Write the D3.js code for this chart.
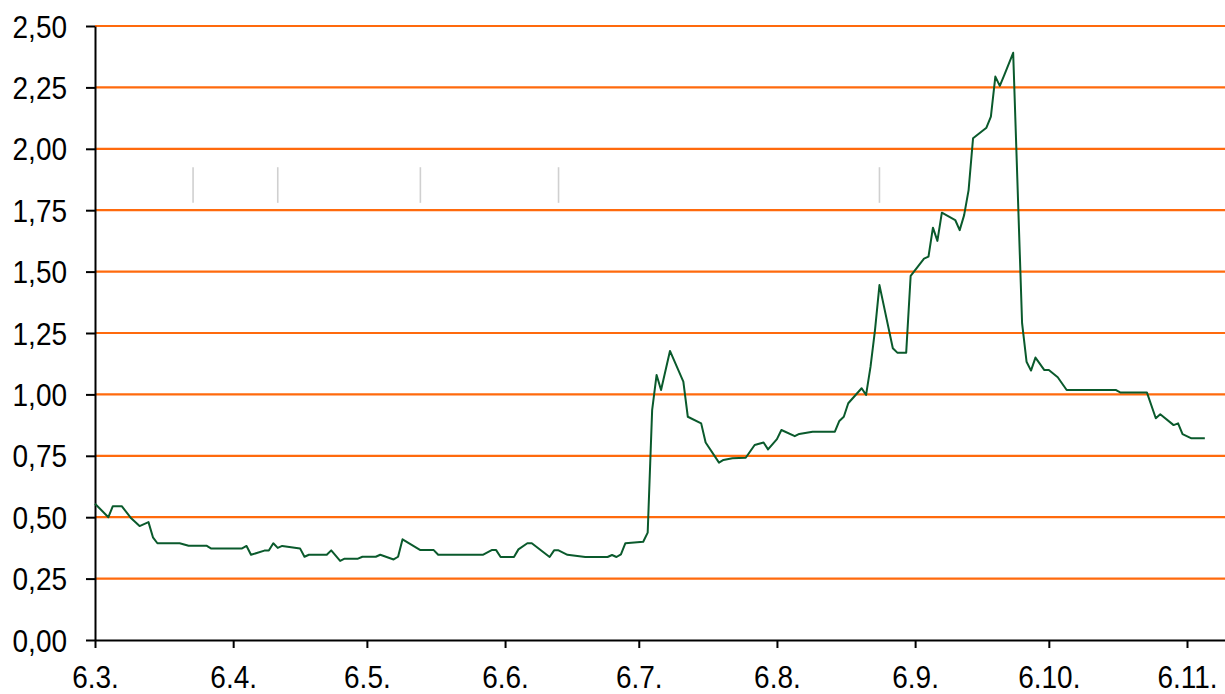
<!DOCTYPE html>
<html lang="fi">
<head>
<meta charset="utf-8">
<script src="https://cdnjs.cloudflare.com/ajax/libs/d3/7.8.5/d3.min.js"></script>
<style>
  body { margin: 0; background: #fff; }
  svg text { font-family: "Liberation Sans", Arial, sans-serif; fill: #000; }
</style>
</head>
<body>
<div id="chart"></div>
<script>
// data (day.month.)
const year = 2008;
const dates = [
  "6.3.","9.3.","10.3.","12.3.","14.3.","16.3.","18.3.","19.3.","20.3.","25.3.",
  "27.3.","31.3.","1.4.","8.4.","9.4.","10.4.","13.4.","14.4.","15.4.","16.4.",
  "17.4.","21.4.","22.4.","23.4.","27.4.","28.4.","30.4.","1.5.","4.5.","5.5.",
  "8.5.","9.5.","12.5.","13.5.","14.5.","18.5.","21.5.","22.5.","1.6.","3.6.",
  "4.6.","5.6.","8.6.","9.6.","11.6.","12.6.","16.6.","17.6.","18.6.","20.6.",
  "24.6.","29.6.","30.6.","1.7.","2.7.","3.7.","7.7.","8.7.","9.7.","10.7.",
  "11.7.","13.7.","16.7.","17.7.","20.7.","21.7.","24.7.","25.7.","27.7.","30.7.",
  "1.8.","3.8.","4.8.","6.8.","7.8.","10.8.","11.8.","14.8.","19.8.","20.8.",
  "21.8.","22.8.","25.8.","26.8.","27.8.","28.8.","29.8.","1.9.","2.9.","4.9.",
  "5.9.","8.9.","9.9.","10.9.","11.9.","12.9.","15.9.","16.9.","17.9.","18.9.",
  "19.9.","22.9.","23.9.","24.9.","25.9.","26.9.","28.9.","30.9.","1.10.","2.10.",
  "3.10.","5.10.","6.10.","8.10.","10.10.","21.10.","22.10.","28.10.","30.10.","31.10.",
  "3.11.","4.11.","5.11.","7.11.","10.11."
];
const values = [
  0.555,0.50,0.545,0.545,0.498,0.464,0.48,0.418,0.394,0.394,
  0.384,0.384,0.373,0.373,0.383,0.347,0.364,0.364,0.394,0.375,
  0.383,0.373,0.339,0.347,0.347,0.365,0.322,0.331,0.331,0.339,
  0.339,0.347,0.328,0.339,0.41,0.366,0.366,0.347,0.347,0.366,
  0.366,0.338,0.338,0.369,0.394,0.394,0.338,0.365,0.365,0.347,
  0.338,0.338,0.346,0.338,0.349,0.394,0.40,0.437,0.936,1.079,
  1.018,1.177,1.052,0.909,0.882,0.804,0.722,0.733,0.74,0.742,
  0.794,0.804,0.776,0.818,0.855,0.83,0.839,0.848,0.848,0.892,
  0.909,0.964,1.025,0.998,1.113,1.262,1.445,1.188,1.17,1.17,
  1.483,1.553,1.561,1.679,1.625,1.74,1.71,1.669,1.73,1.832,
  2.043,2.086,2.131,2.294,2.256,2.30,2.391,1.29,1.133,1.097,
  1.15,1.099,1.099,1.07,1.018,1.018,1.008,1.008,0.903,0.919,
  0.875,0.882,0.838,0.821,0.821
];
const xTickLabels = ["6.3.","6.4.","6.5.","6.6.","6.7.","6.8.","6.9.","6.10.","6.11."];
const yTicks = [0,0.25,0.5,0.75,1,1.25,1.5,1.75,2,2.25,2.5];
// short grey markers
const markerDates = ["28.3.","16.4.","18.5.","18.6.","29.8."];
const markerRange = [1.78, 1.925];

const W = 1225, H = 694;
const mLeft = 95, mTop = 26, mBottom = 640, mRight = 1225;
const parse = d3.timeParse("%d.%m.%Y");
const toDate = s => parse(s + year);
const fmt = d3.formatLocale({decimal: ",", thousands: " ", grouping: [3], currency: ["", ""]}).format(".2f");

const svg = d3.select("#chart").append("svg").attr("width", W).attr("height", H);

// x: first and last labelled tick fix the day width, the plot runs on past the last one
const x = d3.scaleTime()
  .domain([toDate(xTickLabels[0]), toDate(xTickLabels[xTickLabels.length - 1])])
  .range([mLeft, 1187]);
x.domain([x.domain()[0], x.invert(mRight)]).range([mLeft, mRight]);

const y = d3.scaleLinear().domain([0, 2.5]).range([mBottom, mTop]);

// orange grid
svg.append("g")
  .selectAll("line")
  .data(yTicks.filter(d => d > 0))
  .enter()
  .append("line")
  .attr("x1", mLeft).attr("x2", mRight)
  .attr("y1", d => y(d)).attr("y2", d => y(d))
  .attr("stroke", "#ff6a0d")
  .attr("stroke-width", 2.2);

// grey markers
svg.append("g")
  .selectAll("line")
  .data(markerDates)
  .enter()
  .append("line")
  .attr("x1", d => x(toDate(d))).attr("x2", d => x(toDate(d)))
  .attr("y1", y(markerRange[0])).attr("y2", y(markerRange[1]))
  .attr("stroke", "#d0d0d0")
  .attr("stroke-width", 1.6);

// axes
const xAxis = svg.append("g")
  .attr("transform", `translate(0,${mBottom})`)
  .call(d3.axisBottom(x)
    .tickValues(xTickLabels.map(toDate))
    .tickFormat((d, i) => xTickLabels[i])
    .tickSize(8)
    .tickSizeOuter(0));
xAxis.selectAll("text")
  .attr("y", 48 / 1.15).attr("dy", 0)
  .attr("transform", "scale(1,1.15)")
  .style("font-size", "28px");

const yAxis = svg.append("g")
  .attr("transform", `translate(${mLeft},0)`)
  .call(d3.axisLeft(y)
    .tickValues(yTicks)
    .tickFormat(fmt)
    .tickSize(9)
    .tickSizeOuter(0));
yAxis.selectAll("text")
  .attr("x", -28)
  .attr("dy", "0.36em")
  .attr("transform", "scale(1,1.1)")
  .style("font-size", "28px");

svg.selectAll(".domain, .tick line").attr("stroke", "#000").attr("stroke-width", 2);
svg.selectAll(".tick text").attr("fill", "#000");

// the series
const line = d3.line()
  .x((d, i) => x(toDate(dates[i])))
  .y(d => y(d));

svg.append("path")
  .datum(values)
  .attr("d", line)
  .attr("fill", "none")
  .attr("stroke", "#0a5a2c")
  .attr("stroke-width", 2)
  .attr("stroke-linejoin", "round");
</script>
</body>
</html>
